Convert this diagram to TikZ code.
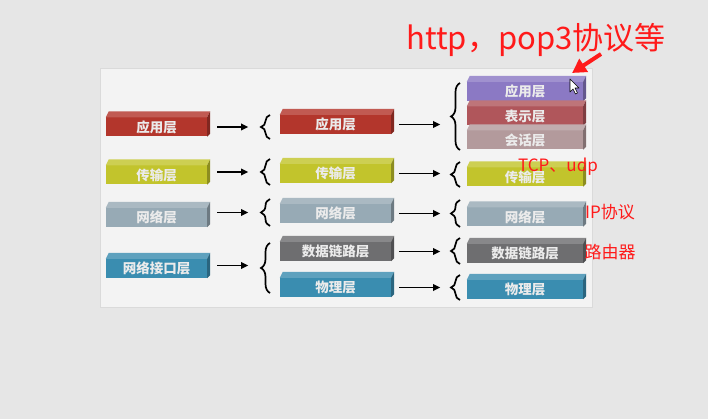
\documentclass[tikz,border=0pt]{standalone}
\usepackage{fontspec}
\newfontfamily\cjk{Noto Sans CJK SC}
\usetikzlibrary{arrows.meta,decorations.pathreplacing}
\definecolor{bg}{HTML}{E6E6E6}
\definecolor{panel}{HTML}{F3F3F3}
\definecolor{panelline}{HTML}{DADADA}
\definecolor{lred}{HTML}{B3362C}
\definecolor{lyellow}{HTML}{C2C42C}
\definecolor{lgrayblue}{HTML}{97AAB5}
\definecolor{lteal}{HTML}{3A8DB0}
\definecolor{ldark}{HTML}{6E6E70}
\definecolor{lpurple}{HTML}{8B79C4}
\definecolor{lrose}{HTML}{B0565B}
\definecolor{lpink}{HTML}{B39A9C}
\definecolor{notered}{HTML}{FF1A1A}
\tikzset{
  layer/.style={inner sep=0pt, minimum height=19pt, text=white!92!black,
    font=\cjk\bfseries\fontsize{13.5}{13.5}\selectfont},
  arr/.style={line width=1.7pt, -{Triangle[length=7pt,width=6.5pt]}},
  lbrace/.style={decorate, decoration={brace, amplitude=9pt}, line width=1.7pt},
  note/.style={text=notered, font=\cjk\fontsize{17}{17}\selectfont, inner sep=0pt},
}
% name, center x, center y, width, colour, text
\newcommand\layerbox[6]{%
  \node[layer, fill=#5, minimum width=#4pt] (#1) at (#2,#3) {};
  \fill[#5!82!white] (#1.north west) -- ++(3,-6) -- ([xshift=3pt,yshift=6pt]#1.north east) -- (#1.north east) -- cycle;
  \fill[#5!72!black] (#1.north east) -- ++(3,-6) -- ([xshift=3pt,yshift=3pt]#1.south east) -- (#1.south east) -- cycle;
  \node[layer] at (#1.center) {#6};
}
\begin{document}
\begin{tikzpicture}[x=1pt,y=-1pt]
\fill[bg] (0,0) rectangle (708,419);
\useasboundingbox (0,0) rectangle (708,419);
\draw[panelline, fill=panel] (100,68) rectangle (592,307);

% column 1
\layerbox{a1}{156.5}{127}{101}{lred}{应用层}
\layerbox{a2}{156.5}{175}{101}{lyellow}{传输层}
\layerbox{a3}{156.5}{217.5}{101}{lgrayblue}{网络层}
\layerbox{a4}{156.5}{268.5}{101}{lteal}{网络接口层}

% column 2
\layerbox{b1}{335.5}{124.5}{111}{lred}{应用层}
\layerbox{b2}{335.5}{173.5}{111}{lyellow}{传输层}
\layerbox{b3}{335.5}{213.5}{111}{lgrayblue}{网络层}
\layerbox{b4}{335.5}{251.5}{111}{ldark}{数据链路层}
\layerbox{b5}{335.5}{287.5}{111}{lteal}{物理层}

% column 3
\layerbox{c1}{525}{91.5}{116}{lpurple}{应用层}
\layerbox{c2}{525}{116}{116}{lrose}{表示层}
\layerbox{c3}{525}{140}{116}{lpink}{会话层}
\layerbox{c4}{525}{177}{116}{lyellow}{传输层}
\layerbox{c5}{525}{217}{116}{lgrayblue}{网络层}
\layerbox{c6}{525}{253.5}{116}{ldark}{数据链路层}
\layerbox{c7}{525}{289.5}{116}{lteal}{物理层}

% arrows column 1 -> braces
\draw[arr] ([xshift=10pt]a1.east) -- ([xshift=41pt]a1.east);
\draw[arr] ([xshift=10pt,yshift=3pt]a2.east) -- ([xshift=41pt,yshift=3pt]a2.east);
\draw[arr] ([xshift=10pt,yshift=5pt]a3.east) -- ([xshift=41pt,yshift=5pt]a3.east);
\draw[arr] ([xshift=10pt,yshift=3pt]a4.east) -- ([xshift=41pt,yshift=3pt]a4.east);

% braces before column 2
\draw[lbrace] (270,139) -- (270,115);
\draw[lbrace] (270,185) -- (270,159);
\draw[lbrace] (270,226) -- (270,199);
\draw[lbrace] (270,293) -- (270,243);

% arrows column 2 -> braces
\draw[arr] ([xshift=8pt]b1.east) -- ([xshift=49pt]b1.east);
\draw[arr] ([xshift=8pt]b2.east) -- ([xshift=49pt]b2.east);
\draw[arr] ([xshift=8pt]b3.east) -- ([xshift=49pt]b3.east);
\draw[arr] ([xshift=8pt]b4.east) -- ([xshift=49pt]b4.east);
\draw[arr] ([xshift=8pt]b5.east) -- ([xshift=49pt]b5.east);

% braces before column 3
\draw[lbrace] (460,150) -- (460,83);
\draw[lbrace] (460,187) -- (460,162);
\draw[lbrace] (460,227) -- (460,200);
\draw[lbrace] (460,264) -- (460,238);
\draw[lbrace] (460,300) -- (460,275);

% mouse cursor
\draw[black, line width=0.6pt, fill=white, line join=round]
  (570,79) -- (570,92) -- (573,89) -- (575.5,94) -- (577.5,93) -- (575,88) -- (579,88) -- cycle;

% red annotations
\node[note, font=\cjk\fontsize{31}{31}\selectfont] (n1) at (536,40) {http，pop3协议等};
\coordinate (ntail) at (601,54);
\coordinate (ntip) at (572,73);
\draw[notered, line width=4pt, -{Triangle[length=14pt,width=15pt]}] (ntail) -- (ntip);
\node[note] (n2) at (558,167) {TCP、udp};
\node[note] (n3) at (610,212) {IP协议};
\node[note] (n4) at (610,252) {路由器};
\end{tikzpicture}
\end{document}
